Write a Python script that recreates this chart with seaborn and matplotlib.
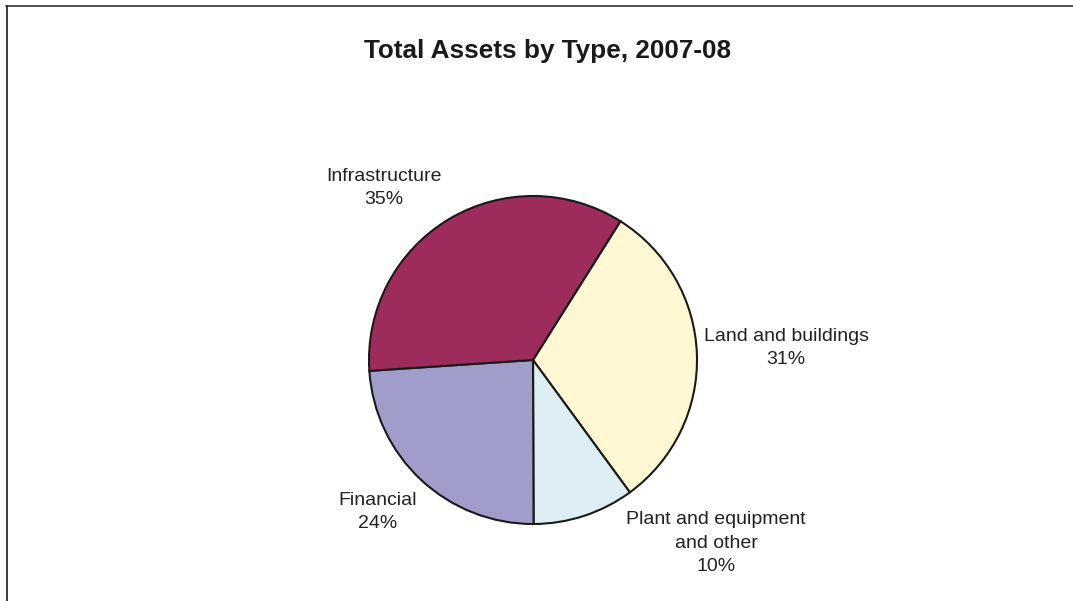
import matplotlib
matplotlib.use("Agg")
import matplotlib.pyplot as plt
import seaborn as sns

# Asset categories, drawn clockwise from the upper right
categories = ["Land and buildings", "Plant and equipment\nand other", "Financial", "Infrastructure"]
shares = [31, 10, 24, 35]
colors = ["#FFF8D3", "#DDEEF5", "#A09DCA", "#9D2B5B"]

title = "Total Assets by Type, 2007-08"

sns.set_theme(style="white")
plt.rcParams["font.family"] = ["Liberation Sans", "DejaVu Sans"]

W, H = 1073, 601
fig = plt.figure(figsize=(W / 100, H / 100), dpi=100)
ax = fig.add_axes([0, 0, 1, 1])

# Pie geometry in pixel units
cx, cy, r = 533, H - 360, 164
start = 57.8

wedges, _ = ax.pie(
    shares,
    colors=colors,
    startangle=start,
    counterclock=False,
    center=(cx, cy),
    radius=r,
    wedgeprops=dict(edgecolor="#1a1a1a", linewidth=1.5),
    frame=True,
)
ax.set_xlim(0, W)
ax.set_ylim(0, H)
ax.set_aspect("equal")
ax.axis("off")

# Label anchors (pixel offsets from the pie centre)
label_offsets = [(253, 12), (183, -183), (-155, -152), (-149, 172)]
for name, val, (dx, dy) in zip(categories, shares, label_offsets):
    ax.text(cx + dx, cy + dy, f"{name}\n{val}%", ha="center", va="center",
            fontsize=14, color="#222222", linespacing=1.48)

fig.text(548 / W, 1 - 51 / H, title, ha="center", va="center",
         fontsize=18.8, fontweight="bold", color="#1a1a1a")

# Frame edges along the top and left
fig.add_artist(plt.Line2D([6 / W, 1], [1 - 5.5 / H, 1 - 5.5 / H],
                          transform=fig.transFigure, color="#333333", linewidth=1.2))
fig.add_artist(plt.Line2D([6.5 / W, 6.5 / W], [0, 1 - 5.5 / H],
                          transform=fig.transFigure, color="#1a1a1a", linewidth=1.2))

fig.savefig("out.png", dpi=100, facecolor="white")
